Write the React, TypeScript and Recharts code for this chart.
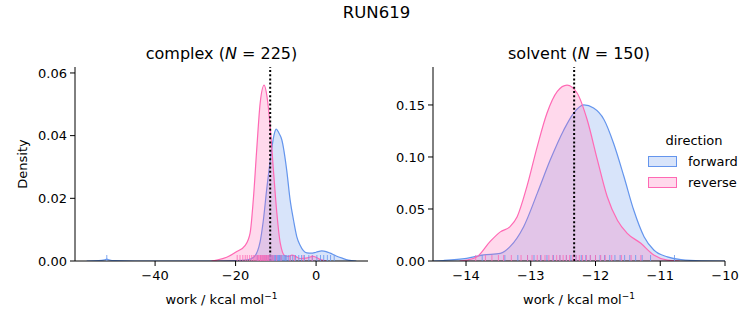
import React from 'react';
import { ComposedChart, Area, Scatter, XAxis, YAxis, ReferenceLine } from 'recharts';

// complex leg, kde curves
const complexFwdX = [-57, -54, -52.5, -52, -51.5, -50, -45, -35, -25, -20, -17, -15.5, -13.9, -13.1, -12.2, -11.4, -11.0, -10.4, -9.9, -9.3, -8.5, -7.3, -6.45, -5.6, -4.8, -4.0, -3.15, -2.3, -1.2, 0, 1.4, 2.5, 3.5, 5, 6.5, 8, 10];
const complexFwdY = [0, 0.0001, 0.0004, 0.0006, 0.0004, 0.0001, 0, 0, 0, 0.0001, 0.0004, 0.0012, 0.0062, 0.013, 0.0237, 0.032, 0.036, 0.0405, 0.0421, 0.041, 0.0386, 0.029, 0.0195, 0.013, 0.0078, 0.0051, 0.0033, 0.0026, 0.0025, 0.0028, 0.0032, 0.003, 0.0025, 0.0016, 0.0009, 0.0003, 0];
const complexRevX = [-26, -24.7, -22.2, -19.7, -17.6, -16.4, -15.6, -14.7, -13.9, -12.9, -12.2, -11.4, -10.6, -9.75, -8.9, -7.7, -6.8, -6.0, -5.0, -4.0, -2.5, -0.7, 0.8, 2.5];
const complexRevY = [0, 0.0003, 0.0012, 0.003, 0.005, 0.0089, 0.0195, 0.0365, 0.0503, 0.0561, 0.0525, 0.0428, 0.029, 0.0153, 0.0057, 0.0016, 0.0015, 0.0019, 0.0014, 0.0008, 0.0009, 0.0015, 0.0006, 0];
const complexFwdRug = [-52.0, -14.6, -13.8, -13.2, -12.7, -12.3, -11.9, -11.6, -11.3, -11.0, -10.8, -10.5, -10.3, -10.1, -9.9, -9.7, -9.5, -9.3, -9.1, -8.9, -8.7, -8.5, -8.2, -7.9, -7.6, -7.3, -6.9, -6.4, -5.8, -5.1, -4.3, -3.6, -2.9, -1.8, -0.9, 0.2, 1.1, 1.9, 2.8, 3.6, 4.5];
const complexRevRug = [-19.6, -18.9, -18.2, -17.6, -17.1, -16.5, -16.0, -15.6, -15.2, -14.9, -14.6, -14.3, -14.0, -13.8, -13.6, -13.4, -13.2, -13.0, -12.8, -12.6, -12.4, -12.2, -12.0, -11.8, -11.5, -11.2, -10.9, -10.5, -9.8, -8.7, -6.5, -5.4, -3.2, -1.0];
const complexMean = -11.4;

// solvent leg
const solventFwdX = [-14.5, -14.35, -13.99, -13.73, -13.47, -13.32, -13.11, -12.9, -12.7, -12.49, -12.34, -12.18, -12.03, -11.87, -11.72, -11.56, -11.41, -11.25, -11.1, -10.89, -10.68, -10.37, -10.0];
const solventFwdY = [0, 0.0005, 0.0026, 0.0058, 0.0074, 0.0138, 0.033, 0.065, 0.097, 0.126, 0.142, 0.15, 0.147, 0.136, 0.113, 0.081, 0.049, 0.0234, 0.0106, 0.004, 0.0013, 0.0002, 0];
const solventRevX = [-14.1, -13.99, -13.83, -13.63, -13.47, -13.32, -13.21, -13.06, -12.9, -12.75, -12.59, -12.44, -12.28, -12.13, -11.97, -11.82, -11.66, -11.51, -11.3, -11.1, -10.89, -10.7];
const solventRevY = [0, 0.0008, 0.004, 0.0186, 0.028, 0.033, 0.0426, 0.0715, 0.11, 0.142, 0.163, 0.169, 0.161, 0.136, 0.097, 0.062, 0.039, 0.0266, 0.017, 0.0058, 0.0008, 0];
const solventFwdRug = [-13.75, -13.4, -13.2, -13.05, -12.95, -12.85, -12.75, -12.65, -12.55, -12.45, -12.38, -12.3, -12.22, -12.15, -12.08, -12.0, -11.93, -11.86, -11.78, -11.7, -11.62, -11.55, -11.47, -11.38, -11.28, -11.15, -10.78];
const solventRevRug = [-13.85, -13.7, -13.6, -13.5, -13.42, -13.3, -13.15, -13.05, -12.98, -12.9, -12.84, -12.78, -12.72, -12.66, -12.6, -12.55, -12.5, -12.45, -12.4, -12.35, -12.3, -12.25, -12.2, -12.14, -12.08, -12.0, -11.92, -11.85, -11.75, -11.6, -11.45, -11.3];
const solventMean = -12.33;

const complexXTicks = [-40, -20, 0];
const complexYTicks = [0, 0.02, 0.04, 0.06];
const solventXTicks = [-14, -13, -12, -11, -10];
const solventYTicks = [0, 0.05, 0.1, 0.15];
const directions = ['forward', 'reverse'];

const BLUE = '#6495ED';
const PINK = '#FF69B4';
const FONT = 'DejaVu Sans';

const toPts = (xs: number[], ys: number[]) => xs.map((x, i) => ({ x, y: ys[i] }));
const toRug = (xs: number[]) => xs.map((x) => ({ x, y: 0 }));

const rugShape = (color: string) => (p: any) => (
  <line x1={p.cx} x2={p.cx} y1={p.cy} y2={p.cy - 6} stroke={color} strokeOpacity={0.8} strokeWidth={1} />
);

const XLabel = ({ viewBox }: any) => (
  <text x={viewBox.x + viewBox.width / 2} y={viewBox.y + 43} textAnchor="middle" fontSize={13} fontFamily={FONT} fill="#000">
    work / kcal mol<tspan dy={-5} fontSize={9}>−1</tspan>
  </text>
);

const YLabel = ({ viewBox }: any) => {
  const cy = viewBox.y + viewBox.height / 2;
  return (
    <text x={22} y={cy} transform={`rotate(-90 22 ${cy})`} textAnchor="middle" dominantBaseline="central" fontSize={13} fontFamily={FONT} fill="#000">
      Density
    </text>
  );
};

const tick = { fill: '#000', fontSize: 13, fontFamily: FONT };

interface PanelProps {
  left: number;
  width: number;
  marginLeft: number;
  marginRight: number;
  xDomain: [number, number];
  yDomain: [number, number];
  xTicks: number[];
  yTicks: number[];
  fwd: { x: number; y: number }[];
  rev: { x: number; y: number }[];
  fwdRug: { x: number; y: number }[];
  revRug: { x: number; y: number }[];
  mean: number;
  yLabel?: boolean;
}

const LegendBox = () => (
  <div style={{ position: 'absolute', left: 648, top: 133, fontFamily: FONT, fontSize: 13, color: '#000', width: 100 }}>
    <div style={{ textAlign: 'center', marginBottom: 3, marginLeft: -8 }}>direction</div>
    {directions.map((d, i) => (
      <div key={d} style={{ display: 'flex', alignItems: 'center', height: 21 }}>
        <span style={{
          display: 'inline-block', width: 27, height: 9, marginRight: 11,
          background: i === 0 ? 'rgba(100,149,237,0.25)' : 'rgba(255,105,180,0.25)',
          border: `1px solid ${i === 0 ? BLUE : PINK}`,
        }} />
        {d}
      </div>
    ))}
  </div>
);

const Panel = (p: PanelProps) => (
  <div style={{ position: 'absolute', left: p.left, top: 0 }}>
    <ComposedChart width={p.width} height={325} margin={{ top: 67, right: p.marginRight, bottom: 34, left: p.marginLeft }}>
      <XAxis
        type="number"
        dataKey="x"
        domain={p.xDomain}
        allowDataOverflow
        ticks={p.xTicks}
        tickFormatter={(v: number) => String(v).replace('-', '−')}
        height={30}
        tick={tick}
        tickSize={5}
        tickMargin={5}
        tickLine={{ stroke: '#000' }}
        axisLine={{ stroke: '#000' }}
        label={<XLabel />}
      />
      <YAxis
        type="number"
        dataKey="y"
        domain={p.yDomain}
        allowDataOverflow
        ticks={p.yTicks}
        tickFormatter={(v: number) => v.toFixed(2)}
        width={40}
        tick={tick}
        tickSize={5}
        tickMargin={3}
        tickLine={{ stroke: '#000' }}
        axisLine={{ stroke: '#000' }}
        label={p.yLabel ? <YLabel /> : undefined}
      />
      <Area data={p.fwd} dataKey="y" type="monotone" stroke={BLUE} strokeWidth={1.2} fill={BLUE} fillOpacity={0.25} isAnimationActive={false} dot={false} activeDot={false} />
      <Area data={p.rev} dataKey="y" type="monotone" stroke={PINK} strokeWidth={1.2} fill={PINK} fillOpacity={0.25} isAnimationActive={false} dot={false} activeDot={false} />
      <Scatter data={p.fwdRug} dataKey="y" shape={rugShape(BLUE)} isAnimationActive={false} />
      <Scatter data={p.revRug} dataKey="y" shape={rugShape(PINK)} isAnimationActive={false} />
      <ReferenceLine x={p.mean} stroke="#000" strokeWidth={2} strokeDasharray="2 2.2" />
    </ComposedChart>
  </div>
);

const titleStyle: React.CSSProperties = {
  position: 'absolute', fontFamily: FONT, color: '#000', textAlign: 'center', whiteSpace: 'nowrap',
};

export default function App() {
  return (
    <div style={{ position: 'absolute', left: 0, top: 0, width: 753, height: 325, background: '#fff' }}>
      <div style={{ ...titleStyle, fontSize: 16.5, left: 0, width: 753, top: 3 }}>RUN619</div>
      <div style={{ ...titleStyle, fontSize: 16, left: 75, width: 293, top: 44 }}>
        complex (<i>N</i> = 225)
      </div>
      <div style={{ ...titleStyle, fontSize: 16, left: 433, width: 292, top: 44 }}>
        solvent (<i>N</i> = 150)
      </div>
      <Panel
        left={0}
        width={380}
        marginLeft={35}
        marginRight={12}
        xDomain={[-59.9, 12.9]}
        yDomain={[0, 0.0619]}
        xTicks={complexXTicks}
        yTicks={complexYTicks}
        fwd={toPts(complexFwdX, complexFwdY)}
        rev={toPts(complexRevX, complexRevY)}
        fwdRug={toRug(complexFwdRug)}
        revRug={toRug(complexRevRug)}
        mean={complexMean}
        yLabel
      />
      <Panel
        left={390}
        width={363}
        marginLeft={3}
        marginRight={28}
        xDomain={[-14.51, -10.0]}
        yDomain={[0, 0.1865]}
        xTicks={solventXTicks}
        yTicks={solventYTicks}
        fwd={toPts(solventFwdX, solventFwdY)}
        rev={toPts(solventRevX, solventRevY)}
        fwdRug={toRug(solventFwdRug)}
        revRug={toRug(solventRevRug)}
        mean={solventMean}
      />
      <LegendBox />
    </div>
  );
}
